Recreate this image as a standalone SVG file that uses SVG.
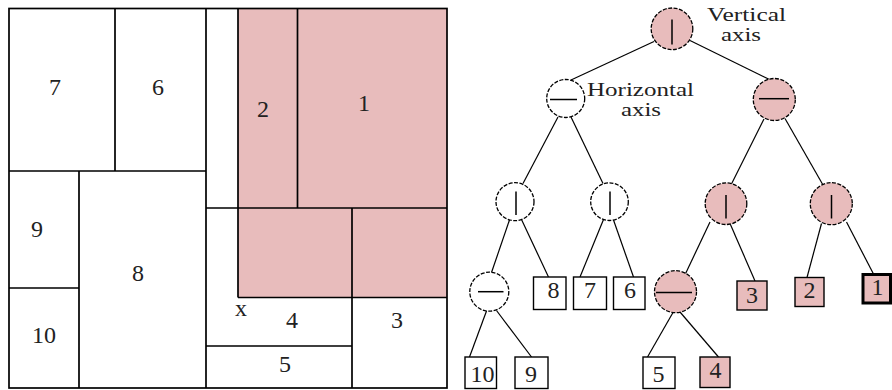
<svg xmlns="http://www.w3.org/2000/svg" width="892" height="390" viewBox="0 0 892 390">
  <style>
    .bg { fill: #ffffff; }
    .wall { fill: none; stroke: #000; stroke-width: 1.7; }
    .hot { fill: #e8bcbc; }
    .lbl { font-family: "Liberation Serif", "Times New Roman", serif; font-size: 24px; fill: #222; text-anchor: middle; }
    .note { font-family: "Liberation Serif", "Times New Roman", serif; font-size: 18px; fill: #222; }
    .op { fill: #ffffff; stroke: #000; stroke-width: 1.3; stroke-dasharray: 4 1.5; }
    .op.hot { fill: #e8bcbc; }
    .cut { stroke: #000; stroke-width: 1.5; fill: none; }
    .leaf { fill: #ffffff; stroke: #000; stroke-width: 1.4; }
    .leaf.hot { fill: #e8bcbc; }
    .leaf.last { stroke-width: 3; }
    .edge { stroke: #000; stroke-width: 1.2; fill: none; }
  </style>
  <rect class="bg" x="0" y="0" width="892" height="390"/>

  <!-- Floorplan -->
  <g id="floorplan">
    <rect class="hot" x="238" y="8.5" width="209" height="289"/>
    <rect class="wall" x="9" y="8.5" width="438" height="379.5"/>
    <path class="wall" d="M206 8.5V388 M238 8.5V297.5 M297.5 8.5V208 M352 208V388 M115 8.5V171 M79 171V388
      M9 171H206 M206 208H447 M238 297.5H447 M206 346H352 M9 288H79"/>
    <text class="lbl" x="55" y="95">7</text>
    <text class="lbl" x="158" y="95">6</text>
    <text class="lbl" x="263" y="116.5">2</text>
    <text class="lbl" x="364" y="110.5">1</text>
    <text class="lbl" x="37" y="237">9</text>
    <text class="lbl" x="138" y="280.5">8</text>
    <text class="lbl" x="44" y="342.5">10</text>
    <text class="lbl" x="241" y="316">x</text>
    <text class="lbl" x="292" y="328">4</text>
    <text class="lbl" x="397" y="328">3</text>
    <text class="lbl" x="285" y="371.5">5</text>
  </g>

  <!-- Slicing tree connectors -->
  <g id="connectors">
    <line class="edge" x1="654" y1="41.5" x2="571" y2="80"/>
    <line class="edge" x1="690" y1="40.5" x2="770.5" y2="80"/>
    <line class="edge" x1="558" y1="117" x2="523" y2="183.5"/>
    <line class="edge" x1="571" y1="117" x2="603" y2="183.5"/>
    <line class="edge" x1="764" y1="119" x2="731.5" y2="184"/>
    <line class="edge" x1="785" y1="118.5" x2="823" y2="185"/>
    <line class="edge" x1="510" y1="218.5" x2="491.5" y2="272.5"/>
    <line class="edge" x1="521.5" y1="219.5" x2="548.5" y2="277"/>
    <line class="edge" x1="603.5" y1="219.5" x2="580" y2="277"/>
    <line class="edge" x1="613.5" y1="220" x2="633.5" y2="277"/>
    <line class="edge" x1="710" y1="222" x2="683" y2="279"/>
    <line class="edge" x1="730" y1="223.5" x2="755" y2="281"/>
    <line class="edge" x1="821.5" y1="223.5" x2="807" y2="277.5"/>
    <line class="edge" x1="846.5" y1="222" x2="873.5" y2="274"/>
    <line class="edge" x1="486.5" y1="311" x2="469.5" y2="357"/>
    <line class="edge" x1="496.5" y1="310.5" x2="531.5" y2="357"/>
    <line class="edge" x1="673" y1="312.5" x2="647.5" y2="357"/>
    <line class="edge" x1="680" y1="312" x2="718.5" y2="357"/>
  </g>

  <!-- Root cut -->
  <g id="root">
    <circle class="op hot" cx="672" cy="28.8" r="20.8"/>
    <line class="cut" x1="672" y1="19.5" x2="672" y2="44.5"/>
    <text class="note" x="707" y="20.5" textLength="79" lengthAdjust="spacingAndGlyphs">Vertical</text>
    <text class="note" x="721" y="41" textLength="40" lengthAdjust="spacingAndGlyphs">axis</text>
  </g>
  <g id="h-left">
    <circle class="op" cx="565.7" cy="98.5" r="19"/>
    <line class="cut" x1="550" y1="99.5" x2="577" y2="99.5"/>
    <text class="note" x="587" y="95.5" textLength="107" lengthAdjust="spacingAndGlyphs">Horizontal</text>
    <text class="note" x="621" y="116" textLength="40" lengthAdjust="spacingAndGlyphs">axis</text>
  </g>
  <g id="h-right">
    <circle class="op hot" cx="774.3" cy="99.5" r="21"/>
    <line class="cut" x1="759" y1="98.7" x2="789" y2="98.7"/>
  </g>
  <g id="v-a">
    <circle class="op" cx="515" cy="201.7" r="19"/>
    <line class="cut" x1="516" y1="191.5" x2="516" y2="215"/>
  </g>
  <g id="v-b">
    <circle class="op" cx="609.5" cy="201.7" r="18.8"/>
    <line class="cut" x1="610" y1="191.5" x2="610" y2="215"/>
  </g>
  <g id="v-c">
    <circle class="op hot" cx="726" cy="203.7" r="20.8"/>
    <line class="cut" x1="726" y1="195" x2="726" y2="218.5"/>
  </g>
  <g id="v-d">
    <circle class="op hot" cx="831.3" cy="203.7" r="21"/>
    <line class="cut" x1="831.5" y1="195" x2="831.5" y2="218.5"/>
  </g>
  <g id="h-e">
    <circle class="op" cx="489.3" cy="291.7" r="19.5"/>
    <line class="cut" x1="478" y1="291.7" x2="503.5" y2="291.7"/>
  </g>
  <g id="h-f">
    <circle class="op hot" cx="675.5" cy="291.7" r="21"/>
    <line class="cut" x1="656" y1="292.5" x2="692" y2="292.5"/>
  </g>

  <!-- Leaves -->
  <g id="leaf-8"><rect class="leaf" x="533.5" y="277" width="32.5" height="32.5"/><text class="lbl" x="553.5" y="297.5">8</text></g>
  <g id="leaf-7"><rect class="leaf" x="573.5" y="277" width="33" height="32.5"/><text class="lbl" x="590" y="297.5">7</text></g>
  <g id="leaf-6"><rect class="leaf" x="613.5" y="277" width="31.5" height="32.5"/><text class="lbl" x="630" y="297.5">6</text></g>
  <g id="leaf-10"><rect class="leaf" x="465" y="357" width="31.5" height="31.5"/><text class="lbl" x="482.5" y="381.5">10</text></g>
  <g id="leaf-9"><rect class="leaf" x="515" y="357" width="33" height="31.5"/><text class="lbl" x="531" y="381.5">9</text></g>
  <g id="leaf-5"><rect class="leaf" x="643" y="357" width="32" height="31.5"/><text class="lbl" x="658.5" y="381.5">5</text></g>
  <g id="leaf-4"><rect class="leaf hot" x="700" y="357" width="30" height="30.5"/><text class="lbl" x="715.5" y="377.5">4</text></g>
  <g id="leaf-3"><rect class="leaf hot" x="737" y="281" width="30" height="29"/><text class="lbl" x="752" y="302.5">3</text></g>
  <g id="leaf-2"><rect class="leaf hot" x="795" y="277.5" width="29" height="29"/><text class="lbl" x="809.5" y="297.5">2</text></g>
  <g id="leaf-1"><rect class="leaf hot last" x="863" y="274.5" width="27.5" height="28.5"/><text class="lbl" x="877.5" y="295">1</text></g>
</svg>
